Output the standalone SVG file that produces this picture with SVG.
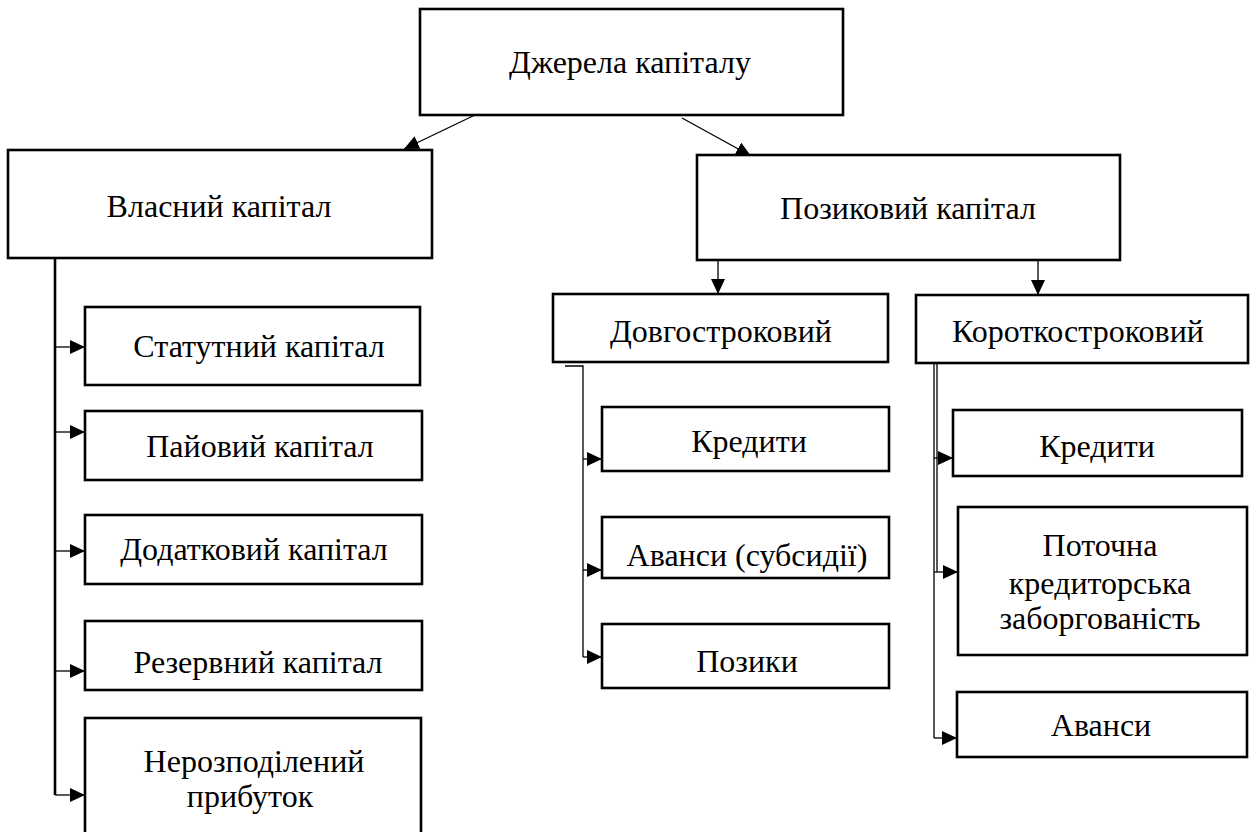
<svg xmlns="http://www.w3.org/2000/svg" width="1257" height="832" viewBox="0 0 1257 832">
<style>
.box{fill:#fff;stroke:#000;stroke-width:2.6}
.t{font-family:'Liberation Serif','Times New Roman',serif;font-size:32px;fill:#000;text-anchor:middle}
.c{fill:none;stroke:#000;stroke-width:1.3}
.ct{fill:none;stroke:#000;stroke-width:2.6}
.ca{fill:none;stroke:#000;stroke-width:1.3;marker-end:url(#ah)}
</style>
<defs>
<marker id="ah" markerUnits="userSpaceOnUse" markerWidth="16" markerHeight="14" refX="15" refY="7" orient="auto">
<path d="M0,0 L15,7 L0,14 z" fill="#000"/>
</marker>
</defs>
<rect width="1257" height="832" fill="#fff"/>
<g id="connectors">
<line class="ca" x1="475" y1="115" x2="404" y2="149"/>
<line class="ca" x1="682" y1="118" x2="751" y2="156"/>
<line class="ca" x1="718" y1="260" x2="718" y2="294"/>
<line class="ca" x1="1038" y1="260" x2="1038" y2="295"/>
<polyline class="c" points="28,255 55,255"/>
<line class="ct" x1="55" y1="255" x2="55" y2="795"/>
<line class="ca" x1="55" y1="347" x2="85" y2="347"/>
<line class="ca" x1="55" y1="432" x2="85" y2="432"/>
<line class="ca" x1="55" y1="551" x2="85" y2="551"/>
<line class="ca" x1="55" y1="671" x2="85" y2="671"/>
<line class="ca" x1="55" y1="795" x2="85" y2="795"/>
<polyline class="c" points="565,366 583,366 583,657"/>
<line class="ca" x1="583" y1="459" x2="602" y2="459"/>
<line class="ca" x1="583" y1="570" x2="602" y2="570"/>
<line class="ca" x1="583" y1="657" x2="602" y2="657"/>
<polyline class="c" points="918,357 937,357 937,572"/>
<polyline class="c" points="918,360 934,360 934,738"/>
<line class="ca" x1="934" y1="458" x2="953" y2="458"/>
<line class="ca" x1="934" y1="572" x2="958" y2="572"/>
<line class="ca" x1="934" y1="738" x2="957" y2="738"/>
</g>
<g id="n-root"><rect class="box" x="420" y="9" width="423" height="106"/><text class="t" x="630" y="73">Джерела капіталу</text></g>
<g id="n-own"><rect class="box" x="8" y="150" width="424" height="108"/><text class="t" x="219" y="217">Власний капітал</text></g>
<g id="n-loan"><rect class="box" x="697" y="155" width="423" height="105"/><text class="t" x="908" y="219">Позиковий капітал</text></g>
<g id="n-long"><rect class="box" x="553" y="294" width="335" height="68"/><text class="t" x="721" y="342">Довгостроковий</text></g>
<g id="n-short"><rect class="box" x="916" y="295" width="332" height="68"/><text class="t" x="1078" y="342">Короткостроковий</text></g>
<g id="n-stat"><rect class="box" x="85" y="307" width="335" height="78"/><text class="t" x="259" y="357">Статутний капітал</text></g>
<g id="n-pai"><rect class="box" x="85" y="411" width="337" height="69"/><text class="t" x="260" y="457">Пайовий капітал</text></g>
<g id="n-dod"><rect class="box" x="85" y="515" width="337" height="69"/><text class="t" x="254" y="560">Додатковий капітал</text></g>
<g id="n-rez"><rect class="box" x="85" y="621" width="337" height="69"/><text class="t" x="258" y="673">Резервний капітал</text></g>
<g id="n-ner"><rect class="box" x="85" y="718" width="336" height="120"/><text class="t" x="254" y="772">Нерозподілений</text><text class="t" x="250" y="807">прибуток</text></g>
<g id="n-l-kred"><rect class="box" x="602" y="407" width="287" height="64"/><text class="t" x="749" y="452">Кредити</text></g>
<g id="n-l-av"><rect class="box" x="602" y="517" width="287" height="61"/><text class="t" x="747" y="566">Аванси (субсидії)</text></g>
<g id="n-l-poz"><rect class="box" x="602" y="624" width="287" height="64"/><text class="t" x="747" y="672">Позики</text></g>
<g id="n-s-kred"><rect class="box" x="953" y="410" width="289" height="66"/><text class="t" x="1097" y="457">Кредити</text></g>
<g id="n-s-pot"><rect class="box" x="958" y="507" width="289" height="148"/><text class="t" x="1100" y="556">Поточна</text><text class="t" x="1100" y="594">кредиторська</text><text class="t" x="1100" y="629">заборгованість</text></g>
<g id="n-s-av"><rect class="box" x="957" y="692" width="290" height="65"/><text class="t" x="1101" y="736">Аванси</text></g>
</svg>
